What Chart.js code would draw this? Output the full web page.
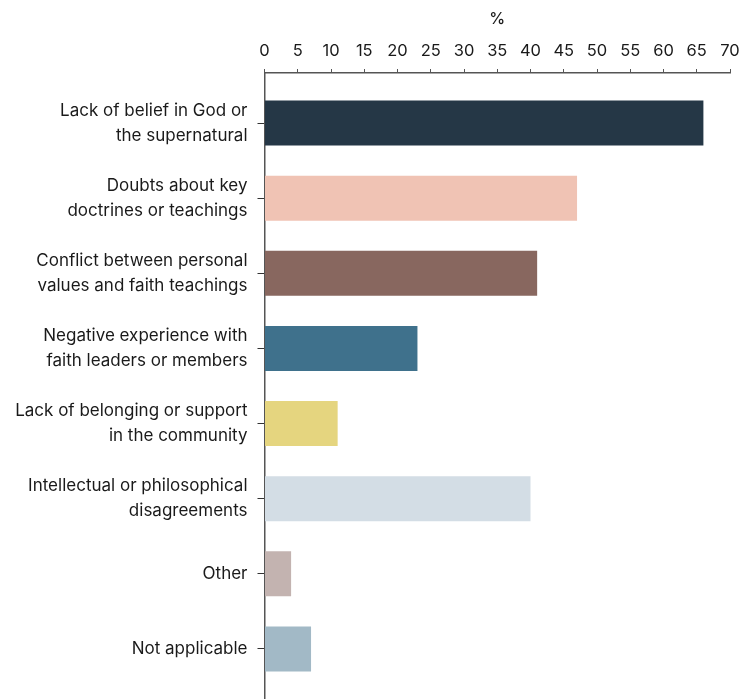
<!DOCTYPE html>
<html>
<head>
<meta charset="utf-8">
<script src="https://cdn.jsdelivr.net/npm/chart.js@4"></script>
<style>
  html, body { margin: 0; padding: 0; background: #fff; overflow: hidden; }
  #wrap { width: 741px; height: 699px; }
</style>
</head>
<body>
<div id="wrap"><canvas id="reasonChart"></canvas></div>
<script>
// reasons, top to bottom
const categories = [
    ["Lack of belief in God or", "the supernatural"],
    ["Doubts about key", "doctrines or teachings"],
    ["Conflict between personal", "values and faith teachings"],
    ["Negative experience with", "faith leaders or members"],
    ["Lack of belonging or support", "in the community"],
    ["Intellectual or philosophical", "disagreements"],
    ["Other"],
    ["Not applicable"],
];
const percentages = [66, 47, 41, 23, 11, 40, 4, 7];
const barColors = ["#253746", "#f0c3b4", "#88675f", "#3f718c", "#e5d57f", "#d3dde5", "#c3b3b0", "#a2b9c6"];
const xTicks = [0, 5, 10, 15, 20, 25, 30, 35, 40, 45, 50, 55, 60, 65, 70];

Chart.defaults.font.family = "Inter, 'Noto Sans', sans-serif";
Chart.defaults.color = "#1a1a1a";

document.addEventListener("DOMContentLoaded", function () {
    const ctx = document.getElementById("reasonChart").getContext("2d");

    new Chart(ctx, {
        type: "bar",
        data: {
            datasets: [{
                data: percentages.map((v, i) => ({ x: v, y: i })),
                backgroundColor: barColors,
                barPercentage: 0.6,
                categoryPercentage: 1,
            }],
        },
        options: {
            indexAxis: "y",
            responsive: true,
            maintainAspectRatio: false,
            animation: false,
            layout: { padding: { top: 0, right: 11, bottom: 0, left: 0 } },
            plugins: {
                legend: { display: false },
                tooltip: { enabled: false },
            },
            scales: {
                x: {
                    type: "linear",
                    position: "top",
                    min: 0,
                    max: 70,
                    afterBuildTicks: (scale) => {
                        scale.ticks = xTicks.map((v) => ({ value: v }));
                    },
                    afterFit: (scale) => {
                        scale.height = 73;
                        scale.paddingLeft = 0;
                        scale.paddingRight = 0;
                    },
                    title: {
                        display: true,
                        text: "%",
                        font: { size: 16, weight: "500" },
                        padding: { top: 10, bottom: 4 },
                    },
                    ticks: {
                        font: { size: 16.5 },
                        padding: 8,
                        maxRotation: 0,
                        autoSkip: false,
                    },
                    grid: { drawOnChartArea: false, tickLength: 4, color: "#555" },
                    border: { color: "#555", width: 1.5 },
                },
                y: {
                    type: "linear",
                    reverse: true,
                    offset: false,
                    // a sixth of a row of blank space above the first and below the last bar
                    min: -0.5 - 1 / 6,
                    max: categories.length - 0.5 + 1 / 6,
                    afterBuildTicks: (scale) => {
                        scale.ticks = categories.map((c, i) => ({ value: i }));
                    },
                    afterFit: (scale) => {
                        scale.width = 264.5;
                        scale.paddingTop = 0;
                        scale.paddingBottom = 0;
                    },
                    ticks: {
                        font: { size: 17, lineHeight: 1.45 },
                        padding: 10,
                        autoSkip: false,
                        callback: (value) => categories[value],
                    },
                    grid: { offset: false, drawOnChartArea: false, tickLength: 7, color: "#333" },
                    border: { color: "#555", width: 1.5 },
                },
            },
        },
    });
});
</script>
</body>
</html>
